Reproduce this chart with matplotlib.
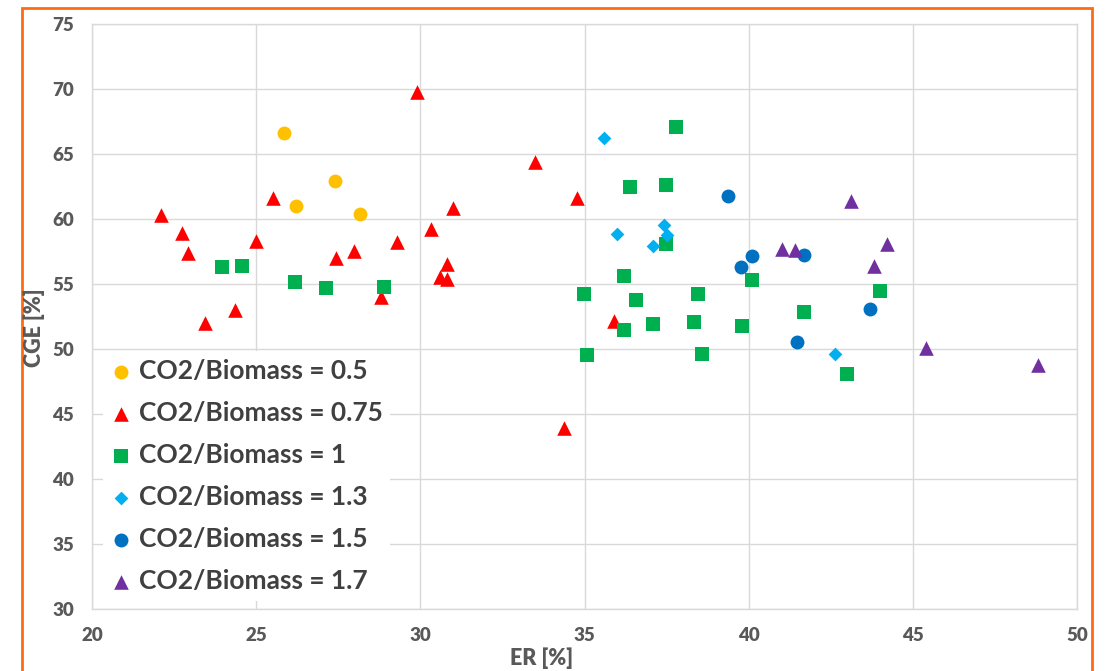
import matplotlib.pyplot as plt
from matplotlib.patches import Rectangle

plt.rcParams['font.family'] = ['Lato', 'DejaVu Sans']

# 数据 (ER [%], CGE [%])
er_05 = [25.86, 27.41, 26.21, 28.17]
cge_05 = [66.59, 62.88, 60.98, 60.38]

er_075 = [22.09, 22.73, 22.93, 25.51, 24.98, 27.44, 27.99, 29.29, 30.31, 31.01,
          29.89, 30.80, 30.61, 30.80, 28.80, 24.37, 23.45, 33.50, 34.76, 35.89, 34.39]
cge_075 = [60.28, 58.93, 57.34, 61.57, 58.31, 56.95, 57.54, 58.23, 59.23, 60.82,
           69.72, 56.52, 55.49, 55.36, 54.00, 52.98, 52.00, 64.38, 61.57, 52.15, 43.92]

er_1 = [23.96, 24.56, 26.17, 27.12, 28.88, 37.78, 36.39, 37.48, 37.47, 36.19,
        34.97, 36.56, 38.47, 40.09, 36.19, 37.08, 38.35, 39.79, 35.07, 38.59,
        41.69, 44.00, 42.98]
cge_1 = [56.31, 56.39, 55.15, 54.64, 54.72, 67.05, 62.41, 62.62, 58.03, 55.57,
         54.18, 53.72, 54.18, 55.31, 51.44, 51.90, 52.03, 51.75, 49.54, 49.62,
         52.80, 54.42, 48.08]

er_13 = [35.60, 36.00, 37.41, 37.51, 37.10, 42.62]
cge_13 = [66.18, 58.82, 59.54, 58.75, 57.92, 49.57]

er_15 = [39.36, 40.09, 39.78, 41.69, 43.69, 41.47]
cge_15 = [61.72, 57.15, 56.31, 57.23, 53.03, 50.54]

er_17 = [43.13, 41.00, 41.41, 44.21, 43.82, 45.41, 48.81]
cge_17 = [61.39, 57.64, 57.59, 58.05, 56.36, 50.08, 48.77]

series = [
    (er_05, cge_05, 'CO2/Biomass = 0.5', 'o', '#FFC000', 10),
    (er_075, cge_075, 'CO2/Biomass = 0.75', '^', '#FF0000', 10.5),
    (er_1, cge_1, 'CO2/Biomass = 1', 's', '#00B050', 10.5),
    (er_13, cge_13, 'CO2/Biomass = 1.3', 'D', '#00B0F0', 7),
    (er_15, cge_15, 'CO2/Biomass = 1.5', 'o', '#0070C0', 10),
    (er_17, cge_17, 'CO2/Biomass = 1.7', '^', '#7030A0', 10.5),
]

fig = plt.figure(figsize=(11.07, 6.71), dpi=100)
ax = fig.add_axes([92 / 1107, 1 - 608.7 / 671, 985 / 1107, 585 / 671])

for x, y, lab, m, c, ms in series:
    ax.scatter(x, y, s=ms ** 2, marker=m, color=c, label=lab, linewidths=0, zorder=3)

ax.set_xlim(20, 50)
ax.set_ylim(30, 75)
ax.set_xticks(range(20, 51, 5))
ax.set_yticks(range(30, 76, 5))
ax.grid(True, color='#D9D9D9', linewidth=1)
ax.set_axisbelow(True)
for sp in ax.spines.values():
    sp.set_color('#D9D9D9')
    sp.set_linewidth(1)
ax.tick_params(length=0, colors='#595959', labelsize=13.5, pad=13)
for t in ax.get_xticklabels() + ax.get_yticklabels():
    t.set_fontweight('heavy')

fig.text(34 / 1107, 1 - 328 / 671, 'CGE [%]', rotation=90, ha='center', va='center',
         fontsize=15.5, fontweight='heavy', color='#595959')
fig.text(542 / 1107, 1 - 658 / 671, 'ER [%]', ha='center', va='center',
         fontsize=15.5, fontweight='heavy', color='#595959')

leg = ax.legend(loc='lower left', bbox_to_anchor=(11 / 985, 8 / 585), frameon=True,
                facecolor='white', edgecolor='none', framealpha=1, fancybox=False,
                prop={'size': 19, 'weight': 'bold'}, labelspacing=0.68,
                handlelength=0.75, handletextpad=0.3, borderpad=0.3, borderaxespad=0)
for t in leg.get_texts():
    t.set_color('#404040')

# 外框
fig.patches.append(Rectangle((22 / 1107, -0.01), 1070 / 1107, 1.01 - 8 / 671,
                             transform=fig.transFigure, fill=False,
                             edgecolor='#FF6A13', linewidth=2))

fig.savefig('out.png', dpi=100)
